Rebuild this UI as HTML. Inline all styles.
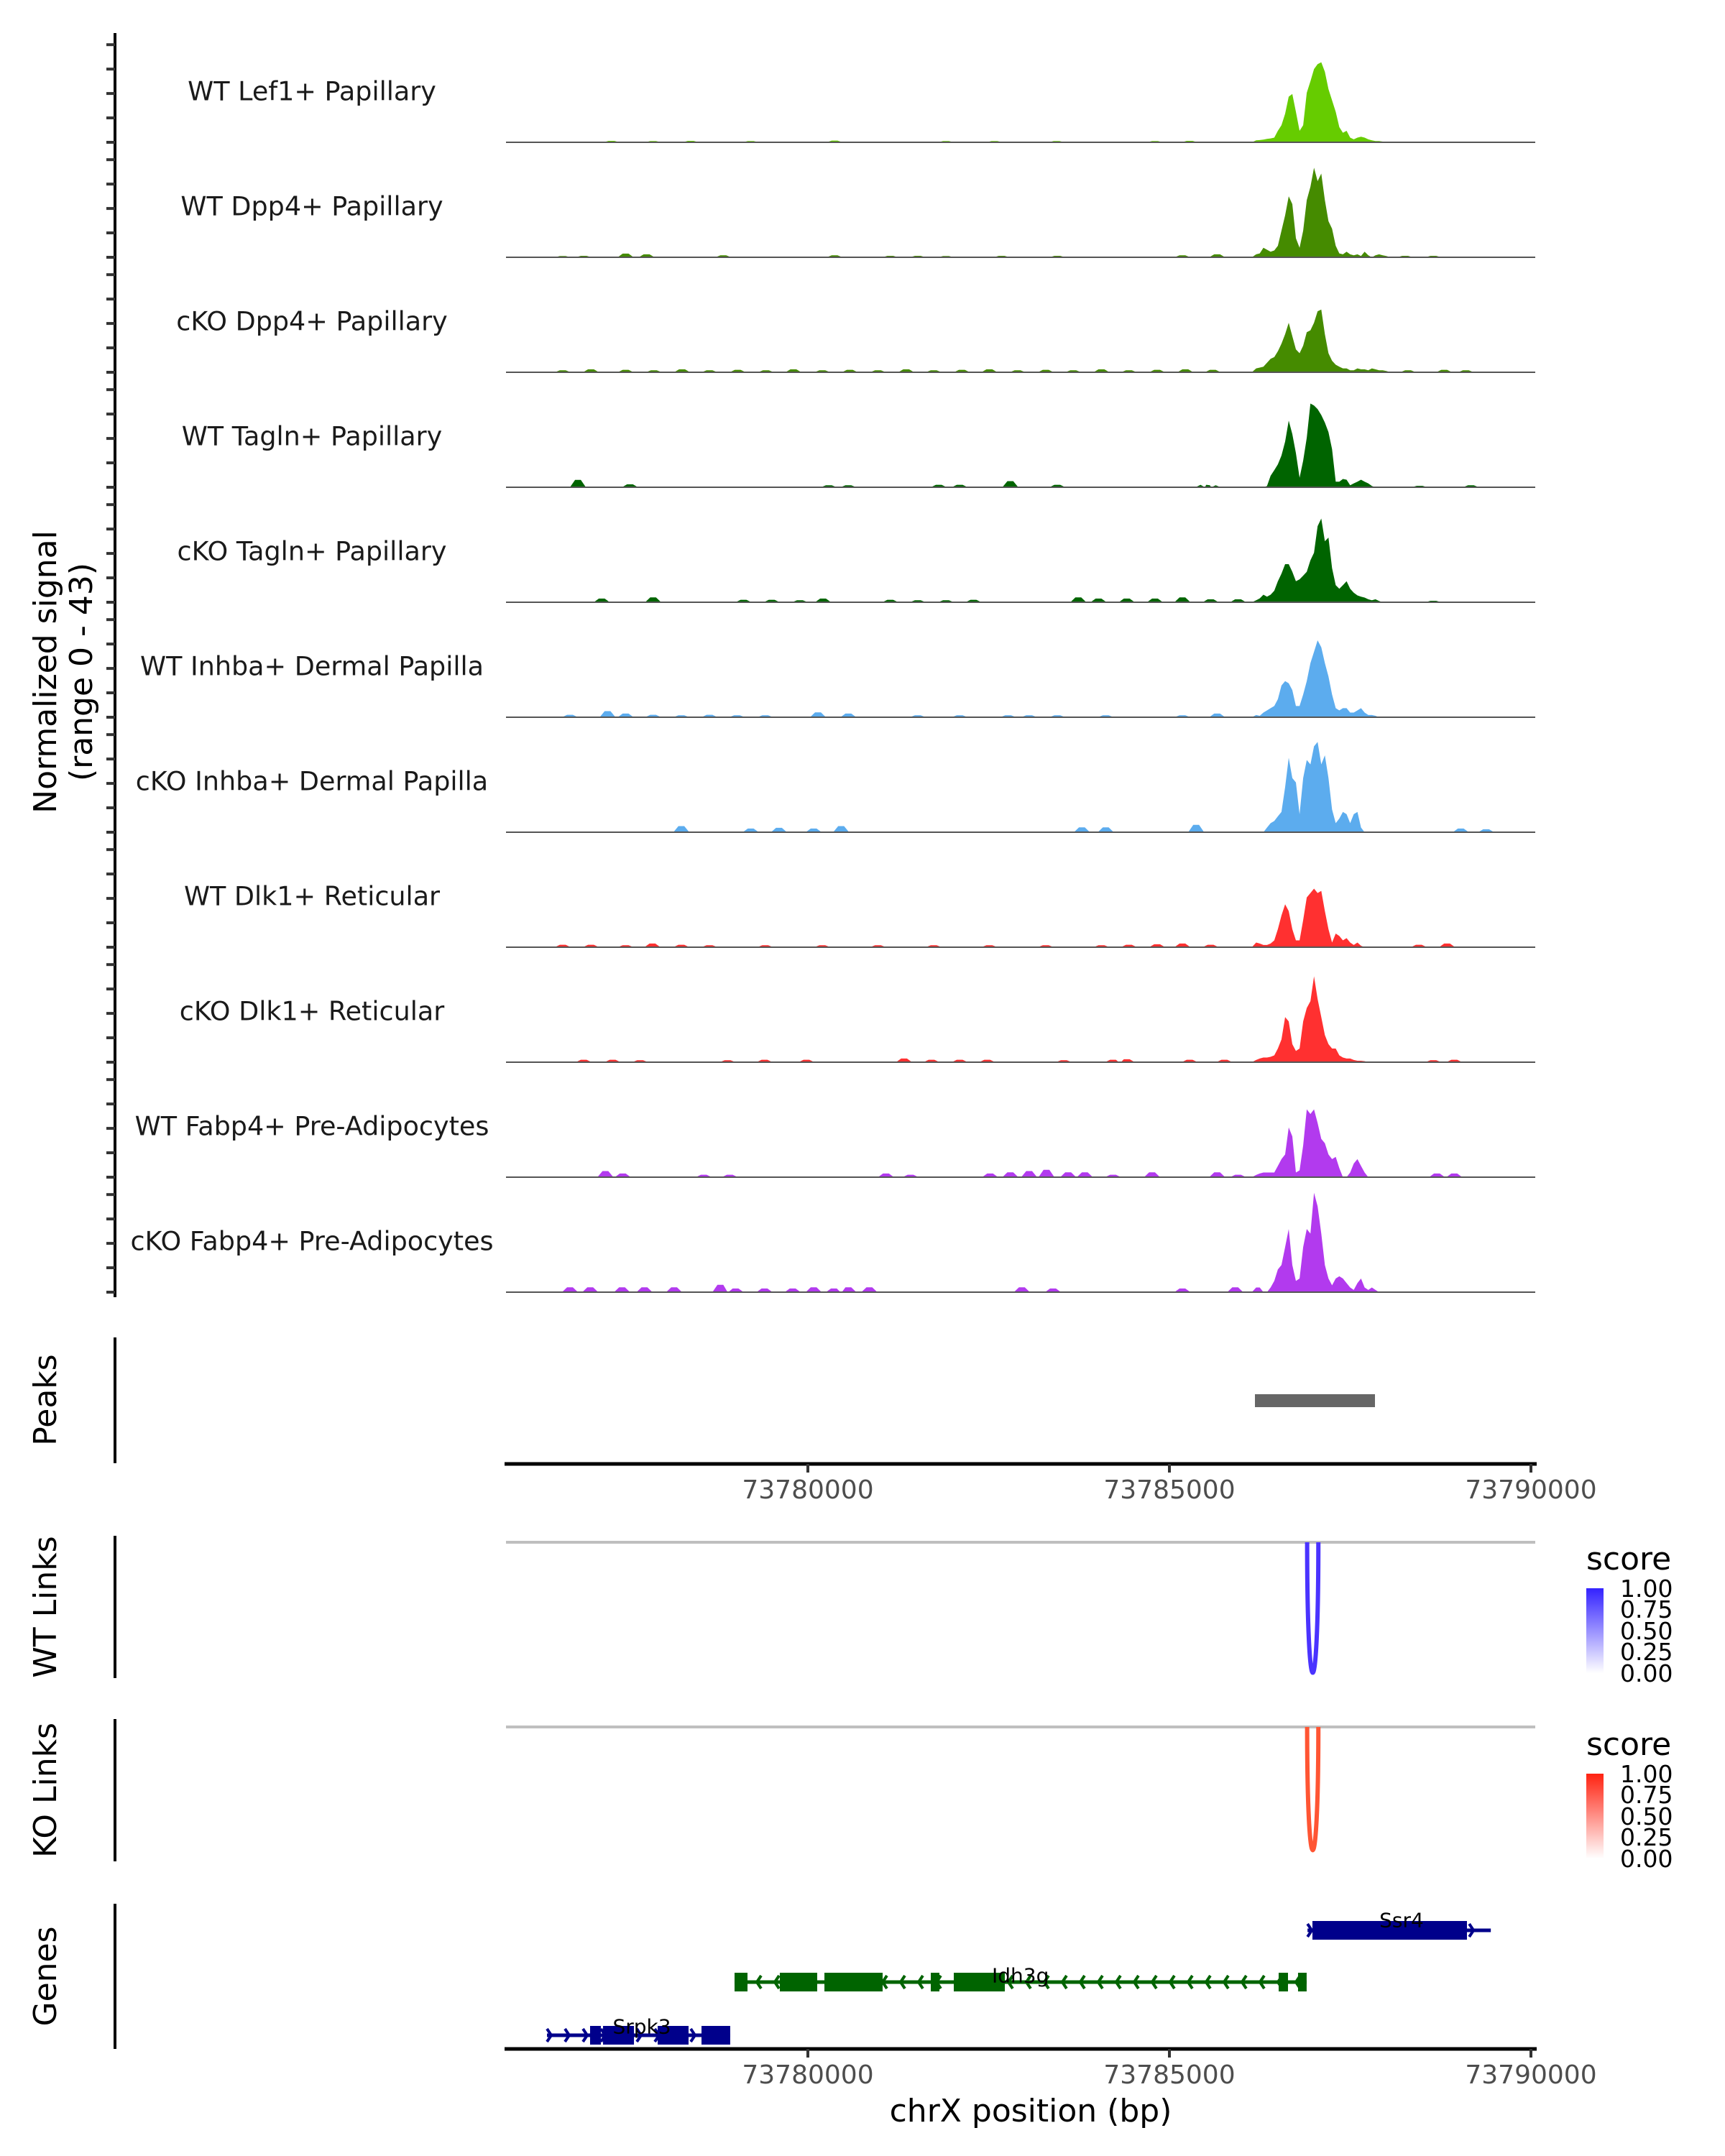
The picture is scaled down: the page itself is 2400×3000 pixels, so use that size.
<!DOCTYPE html>
<html><head><meta charset="utf-8"><style>
html,body{margin:0;padding:0;background:#fff;}
svg{display:block;font-family:"DejaVu Sans","Liberation Sans",sans-serif;}
</style></head><body>
<svg id="chart" width="2400" height="3000" viewBox="0 0 2400 3000" xmlns="http://www.w3.org/2000/svg">
<defs>
<linearGradient id="gradWT" x1="0" y1="1" x2="0" y2="0"><stop offset="0" stop-color="#ffffff"/><stop offset="1" stop-color="#3322ff"/></linearGradient>
<linearGradient id="gradKO" x1="0" y1="1" x2="0" y2="0"><stop offset="0" stop-color="#ffffff"/><stop offset="1" stop-color="#ff2211"/></linearGradient>
</defs>
<g id="tracks"></g>
<line x1="160" y1="46" x2="160" y2="1805" stroke="#000" stroke-width="4"/>
<g id="yticks"></g>
<text transform="translate(78,935) rotate(-90)" text-anchor="middle" font-size="44">Normalized signal</text>
<text transform="translate(128,935) rotate(-90)" text-anchor="middle" font-size="44">(range 0 - 43)</text>

<line x1="160" y1="1861" x2="160" y2="2036" stroke="#000" stroke-width="4"/>
<text transform="translate(78,1948) rotate(-90)" text-anchor="middle" font-size="44">Peaks</text>
<g id="peaks"></g>
<g id="xaxis1"></g>

<line x1="160" y1="2137" x2="160" y2="2335" stroke="#000" stroke-width="4"/>
<text transform="translate(78,2236) rotate(-90)" text-anchor="middle" font-size="44">WT Links</text>
<line x1="160" y1="2392" x2="160" y2="2590" stroke="#000" stroke-width="4"/>
<text transform="translate(78,2491) rotate(-90)" text-anchor="middle" font-size="44">KO Links</text>
<g id="links"></g>

<g>
<text x="2207" y="2184" font-size="44">score</text>
<rect x="2207" y="2210" width="24" height="118" fill="url(#gradWT)"/>
<g font-size="33">
<text x="2254" y="2222">1.00</text><text x="2254" y="2251">0.75</text><text x="2254" y="2281">0.50</text><text x="2254" y="2310">0.25</text><text x="2254" y="2340">0.00</text></g>
</g>
<g>
<text x="2207" y="2442" font-size="44">score</text>
<rect x="2207" y="2468" width="24" height="118" fill="url(#gradKO)"/>
<g font-size="33">
<text x="2254" y="2480">1.00</text><text x="2254" y="2509">0.75</text><text x="2254" y="2539">0.50</text><text x="2254" y="2568">0.25</text><text x="2254" y="2598">0.00</text></g>
</g>

<line x1="160" y1="2649" x2="160" y2="2851" stroke="#000" stroke-width="4"/>
<text transform="translate(78,2750) rotate(-90)" text-anchor="middle" font-size="44">Genes</text>
<g id="genes"></g>
<g id="xaxis2"></g>
<text x="1434" y="2952" text-anchor="middle" font-size="44">chrX position (bp)</text>
</svg>
<script>
const trackNames = ["WT Lef1+ Papillary","WT Dpp4+ Papillary","cKO Dpp4+ Papillary","WT Tagln+ Papillary","cKO Tagln+ Papillary","WT Inhba+ Dermal Papilla","cKO Inhba+ Dermal Papilla","WT Dlk1+ Reticular","cKO Dlk1+ Reticular","WT Fabp4+ Pre-Adipocytes","cKO Fabp4+ Pre-Adipocytes"];
const trackColors = ["#66cc00","#458b00","#458b00","#006400","#006400","#5cacee","#5cacee","#ff3030","#ff3030","#b23aee","#b23aee"];
const binStart = 73786200;
const binSize = 50;
const sigLef1 = [0.8,0.9,1.1,1.4,1.6,1.9,4.7,7,11.7,18.7,19.8,12.5,4.7,7,20.3,25,30,32,32.8,28.9,21.8,17.2,12.5,6.2,3.9,4.7,1.9,1.2,1.9,2.3,1.9,1.2,0.8,0.5,0.5,0.3,0.3];
const sigWtDpp4 = [1.2,1.6,3.9,3.1,2.3,2.8,4.7,10.9,17.2,25,21.8,7.8,3.9,10.9,23.4,28.9,36.7,31.2,34.3,23.4,14.8,11.7,4.7,1.6,1.2,2.3,1.2,0.8,1.2,0.5,2.3,0.8,0,0.8,1.2,0.8,0.5];
const sigKoDpp4 = [1.6,1.9,2.3,3.9,5.5,6.2,8.6,11.7,15.6,20.3,14.8,9.4,7.8,10.9,16.4,17.2,20.3,25,25.7,15.6,7.8,4.7,3.1,2.3,1.6,1.6,0.8,0.8,1.6,1.2,1.2,0.8,1.6,1.2,0.8,0.8,0.5];
const sigWtTagln = [0,0,0,0.5,4.7,7,9.4,13,18.7,27.3,21.8,14,3.9,10.9,20.3,34.3,33.5,32,29.6,26.5,22.6,15.6,2.3,2.3,3.4,3.1,0.8,1.6,2.3,3.1,2.3,1.6,0.5,0,0,0,0];
const sigKoTagln = [0.8,1.6,3.1,2.3,3.1,4.7,8.6,11.7,15.6,15.6,12.5,8.6,9.4,10.9,12.5,17.2,20.3,31.2,34.3,25,26.5,14,7,5.5,7,8.6,5.5,3.9,2.8,2.3,1.9,1.2,0.8,1.2,0.5,0,0];
const sigWtInhba = [0.9,0.6,1.9,2.8,3.7,4.6,7.4,13,14.8,13.9,11.1,4.6,4.6,9.3,14.8,22.2,26.8,31.5,28.7,22.2,16.7,9.3,3.7,2.8,3.7,3.7,1.9,1.9,2.8,3.7,1.9,0.9,0.9,0.6,0,0,0];
const sigKoInhba = [0,0,0,1.9,3.7,4.6,6.5,8.3,18.5,30.5,22.2,20.4,7.4,22.2,29.6,27.8,35.2,37,27.8,31.5,22.2,9.3,3.7,5.6,8.3,7.4,3.7,7.4,8.3,1.9,0,0,0,0,0,0,0];
const sigWtDlk1 = [1.9,1.5,0.9,0.9,1.5,2.8,7.4,13,17.6,14.8,7.4,2.8,2.8,11.1,20.4,22.2,24,22.2,23.1,14.8,7.4,1.9,5.6,4.6,2.8,3.7,1.9,0.9,1.9,0.6,0,0,0,0,0,0,0];
const sigKoDlk1 = [0.9,1.5,1.9,1.9,2.2,2.8,5.6,9.3,18.5,16.7,7.4,4.6,5.6,16.7,22.2,25,35.2,25.9,18.5,11.1,7.4,5.6,5.6,2.8,1.9,1.5,1.5,0.9,0.6,0.6,0.4,0,0,0,0,0,0];
const sigWtFabp4 = [0.9,1.5,1.9,1.9,1.9,1.9,4.6,7.4,9.3,20.4,16.7,1.9,2.8,13,27.8,25.9,27.8,22.2,15.7,13.9,9.3,7.4,8.3,3.7,0,0,1.9,5.6,7.4,4.6,1.9,0,0,0,0,0,0];
const sigKoFabp4 = [1.9,1.9,0,0,1.9,4.6,9.3,11.1,18.5,25.9,11.1,4.6,5.6,18.5,25.9,24,40.7,35.2,24,11.1,5.6,2.8,5.6,6.5,5.6,3.7,1.9,0.9,3.7,5.6,1.9,0.9,1.9,0.9,0,0,0];
const mainSignals = [sigLef1,sigWtDpp4,sigKoDpp4,sigWtTagln,sigKoTagln,sigWtInhba,sigKoInhba,sigWtDlk1,sigKoDlk1,sigWtFabp4,sigKoFabp4];
const blipsLef1 = [[73777284,.6],[73777860,.5],[73778380,.6],[73779210,.5],[73780370,.7],[73781910,.5],[73782580,.5],[73783440,.5],[73784800,.5],[73785280,.6]];
const blipsWtDpp4 = [[73776610,.5],[73776900,.6],[73777480,1.5],[73777770,1.2],[73778830,.8],[73780370,.8],[73781140,.6],[73781520,.6],[73781910,.5],[73782680,.6],[73783450,.6],[73785180,.8],[73785660,1.2],[73788260,.6],[73788650,.6]];
const blipsKoDpp4 = [[73776610,.8],[73777000,1.2],[73777480,1],[73777870,.8],[73778260,1.2],[73778640,.8],[73779030,1],[73779420,.8],[73779800,1.2],[73780200,.8],[73780580,1],[73780970,.8],[73781360,1.2],[73781740,.8],[73782130,1],[73782510,1.2],[73782900,.8],[73783290,1],[73783670,.8],[73784060,1.2],[73784440,.8],[73784830,1],[73785220,1.2],[73785600,1],[73788300,.8],[73788800,1],[73789100,.8]];
const blipsWtTagln = [[73776820,3],[73777540,1.2],[73780290,.8],[73780560,.8],[73781810,1],[73782100,1],[73782800,2.5],[73783450,1],[73785470,1],[73785600,.8],[73788460,.6],[73789170,.8]];
const blipsKoTagln = [[73777150,1.5],[73777860,2],[73779110,1],[73779500,1],[73779890,.8],[73780210,1.5],[73781140,1],[73781520,.8],[73781910,.8],[73782290,1],[73783740,2],[73784020,1.5],[73784410,1.5],[73784800,1.5],[73785180,2],[73785570,1.2],[73785950,1.2],[73788650,.6]];
const blipsWtInhba = [[73776710,1],[73777230,2.5],[73777480,1.5],[73777860,1],[73778250,.8],[73778640,1],[73779020,.8],[73779410,.8],[73780140,2],[73780560,1.5],[73781520,.8],[73782100,.8],[73782770,.8],[73783060,.8],[73783450,.8],[73784120,.8],[73785180,.8],[73785660,1.5]];
const blipsKoInhba = [[73778250,2.5],[73779210,1.5],[73779600,1.8],[73780080,1.5],[73780460,2.5],[73783790,2],[73784120,2],[73785370,3],[73789030,1.5],[73789380,1.2]];
const blipsWtDlk1 = [[73776610,1],[73777000,1],[73777480,.8],[73777850,1.5],[73778250,1],[73778640,.8],[73779410,.8],[73780200,.8],[73780970,.8],[73781740,.8],[73782510,.8],[73783290,.8],[73784060,.8],[73784440,1],[73784830,1.2],[73785180,1.5],[73785570,1],[73788450,1],[73788840,1.5]];
const blipsKoDlk1 = [[73776900,1],[73777300,1],[73777680,.8],[73778890,.8],[73779400,1],[73779980,1],[73781330,1.5],[73781710,1],[73782100,1],[73782480,1],[73783540,.8],[73784220,1],[73784410,1.2],[73785280,1],[73785760,1],[73788650,.8],[73788940,1]];
const blipsWtFabp4 = [[73777200,2.5],[73777440,1.5],[73778560,1],[73778920,1],[73781080,1.5],[73781420,1],[73782520,1.5],[73782800,2],[73783060,2.5],[73783300,3],[73783600,2],[73783830,2],[73784220,1],[73784760,2],[73785660,2],[73785950,1],[73788700,1.5],[73788940,1.5]];
const blipsKoFabp4 = [[73776710,2],[73776990,2],[73777430,2],[73777740,2],[73778150,2],[73778790,3],[73779000,1.5],[73779400,1.5],[73779790,1.5],[73780080,2],[73780360,1.5],[73780560,2],[73780850,2],[73782960,2],[73783390,1.5],[73785180,1.5],[73785910,2]];
const blipSignals = [blipsLef1,blipsWtDpp4,blipsKoDpp4,blipsWtTagln,blipsKoTagln,blipsWtInhba,blipsKoInhba,blipsWtDlk1,blipsKoDlk1,blipsWtFabp4,blipsKoFabp4];
const xTicks = [73780000,73785000,73790000];
const yTickValues = [0,10,20,30,40];
const peakRegions = [[73786183,73787843]];
const wtLinks = [[73786905,73787060,0.9]];
const koLinks = [[73786905,73787060,0.85]];
const geneNames = ["Ssr4","Idh3g","Srpk3"];
const geneStrands = ["+","-","+"];
const geneSpans = [[73786910,73789445],[73778986,73786898],[73776392,73778926]];
const ssr4Exons = [[73786978,73789115]];
const idh3gExons = [[73778986,73779165],[73779612,73780129],[73780229,73781034],[73781700,73781819],[73782018,73782724],[73786511,73786640],[73786779,73786898]];
const srpk3Exons = [[73776988,73777137],[73777167,73777595],[73777923,73778350],[73778529,73778926]];
const geneExons = [ssr4Exons,idh3gExons,srpk3Exons];

const NS="http://www.w3.org/2000/svg";
const D0=73775865,D1=73790159,PX0=708,PX1=2146;
const X0=704,X1=2136;
function xs(bp){return PX0+(bp-D0)/(D1-D0)*(PX1-PX0);}
const BASE0=198,STEP=160,YMAX=43,TH=146;
function ys(i,v){return BASE0+i*STEP - v/YMAX*TH;}
function mk(tag,attrs,parent){const e=document.createElementNS(NS,tag);for(const k in attrs)e.setAttribute(k,attrs[k]);parent.appendChild(e);return e;}

const gT=document.getElementById('tracks');
const gY=document.getElementById('yticks');
trackNames.forEach((name,i)=>{
  const base=BASE0+i*STEP;
  const main=mainSignals[i];
  const mEnd=binStart+(main.length-1)*binSize;
  let pts=[];
  blipSignals[i].forEach(b=>{ if(b[0]<binStart-150||b[0]>mEnd+150){pts.push([b[0]-110,0],[b[0]-40,b[1]],[b[0]+40,b[1]],[b[0]+110,0]);} });
  main.forEach((v,k)=>pts.push([binStart+k*binSize,v]));
  pts.push([binStart-60,0],[mEnd+60,0]);
  pts.sort((a,b)=>a[0]-b[0]);
  let d='M'+X0+','+base;
  pts.forEach(p=>{d+=' L'+xs(p[0]).toFixed(1)+','+ys(i,p[1]).toFixed(1);});
  d+=' L'+X1+','+base+' Z';
  const area=mk('path',{d:d,fill:trackColors[i]},gT);
  
  
  const bl=mk('line',{x1:X0,x2:X1,y1:base,y2:base,stroke:'#555','stroke-width':2},gT);
  
  
  const lab=mk('text',{x:434,y:base-71,'text-anchor':'middle','dominant-baseline':'central','font-size':36.5,fill:'#1a1a1a'},gT);
  lab.textContent=name;
  
  
  yTickValues.forEach(v=>{
    const t=mk('line',{x1:148,x2:160,y1:ys(i,v),y2:ys(i,v),stroke:'#333','stroke-width':4},gY);
    
    
  });
});

const gP=document.getElementById('peaks');
peakRegions.forEach(p=>{
  const r=mk('rect',{x:xs(p[0]),y:1940,width:xs(p[1])-xs(p[0]),height:18,fill:'#666666'},gP);
  
  
});

function axis(id,y){
  const g=document.getElementById(id);
  const l=mk('line',{x1:X0-2,x2:X1+2,y1:y,y2:y,stroke:'#000','stroke-width':5},g);
  
  
  xTicks.forEach(t=>{
    const tk=mk('line',{x1:xs(t),x2:xs(t),y1:y,y2:y+12,stroke:'#333','stroke-width':4},g);
    
    
    const tx=mk('text',{x:xs(t),y:y+48,'text-anchor':'middle','font-size':36,fill:'#4d4d4d'},g);
    tx.textContent=String(t);
    
    
  });
}
axis('xaxis1',2037);
axis('xaxis2',2851);

const gL=document.getElementById('links');
function drawLinks(arr,top,bottom,color,label){
  const gl=mk('line',{x1:X0,x2:X1,y1:top,y2:top,stroke:'#bfbfbf','stroke-width':4},gL);
  
  
  arr.forEach(a=>{
    const x1=xs(a[0]),x2=xs(a[1]),h=(bottom-top)*a[2]/0.9;
    const p=mk('path',{d:'M'+x1+','+top+' C'+x1+','+(top+h*1.33)+' '+x2+','+(top+h*1.33)+' '+x2+','+top,fill:'none',stroke:color,'stroke-width':6},gL);
    
    
  });
}
drawLinks(wtLinks,2146,2328,'#4a33ff','wt-link');
drawLinks(koLinks,2403,2585,'#ff5533','ko-link');

const gG=document.getElementById('genes');
const geneY=[2686,2758,2832];
const geneColors=["#00008b","#006400","#00008b"];
const labelPos=[[1950,2672,'middle'],[1380,2749,'start'],[893,2820,'middle']];
geneNames.forEach((g,i)=>{
  const y=geneY[i],c=geneColors[i];
  const sp=geneSpans[i];
  const ln=mk('line',{x1:xs(sp[0]),x2:xs(sp[1]),y1:y,y2:y,stroke:c,'stroke-width':5},gG);
  
  
  const dir=geneStrands[i]==='+'?1:-1;
  for(let x=xs(sp[0])+6;x<=xs(sp[1])-4;x+=25){
    const ch=mk('path',{d:'M'+(x-6*dir)+','+(y-9)+' L'+x+','+y+' L'+(x-6*dir)+','+(y+9),fill:'none',stroke:c,'stroke-width':4},gG);
    
    
  }
  geneExons[i].forEach(e=>{
    const r=mk('rect',{x:xs(e[0]),y:y-13,width:Math.max(4,xs(e[1])-xs(e[0])),height:26,fill:c},gG);
    
    
  });
  const lp=labelPos[i];
  const t=mk('text',{x:lp[0],y:lp[1],'text-anchor':lp[2],'dominant-baseline':'central','font-size':28,fill:'#000'},gG);
  t.textContent=g;
  
  
});
</script>
</body></html>
